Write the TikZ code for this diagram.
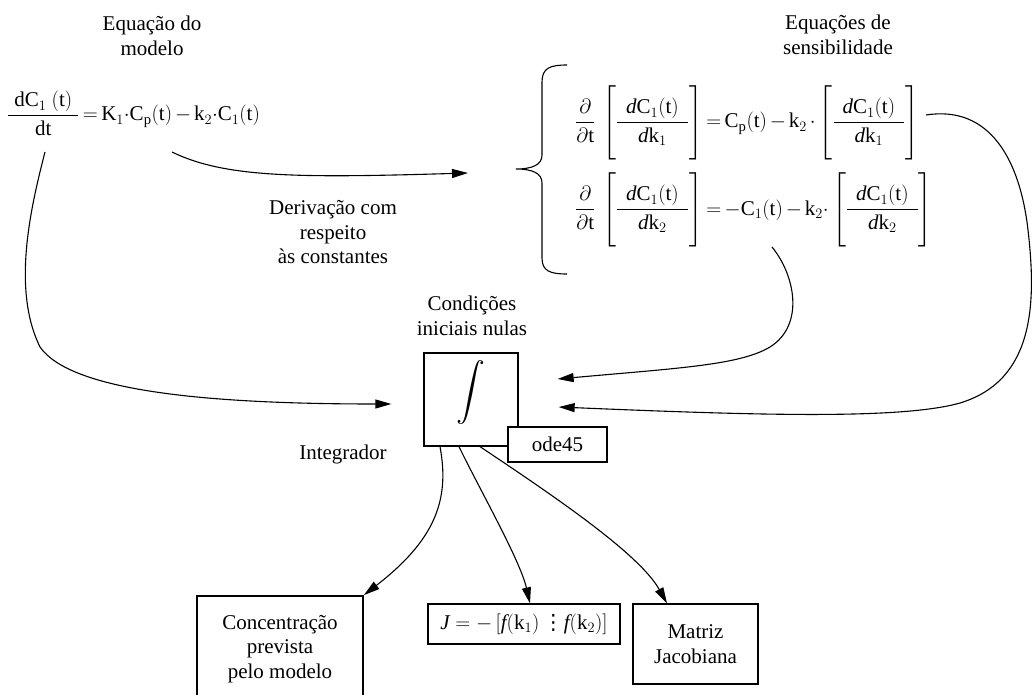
\documentclass[tikz,border=0pt]{standalone}
\usepackage{amsmath}
\usepackage{graphicx}
\usepackage{fontspec}
\setmainfont{Liberation Serif}
\newfontfamily\symfnt{DejaVu Sans}
\usetikzlibrary{arrows.meta}
\delimiterfactor=1000
\delimitershortfall=0pt
\newcommand{\rmq}[1]{\mathrm{#1}}
\newcommand{\bfrac}[1]{\left[\rule[-30pt]{0pt}{70pt}\dfrac{\hspace{9pt}\mathit{d}\rmq{C}_1(\rmq{t})\hspace{9pt}}{\mathit{d}\rmq{k}_{#1}}\right]}
\newcommand{\tightmath}{\thickmuskip=3mu\medmuskip=2.5mu}
\begin{document}
\begin{tikzpicture}[x=1pt,y=-1pt,
  every node/.style={font=\fontsize{21}{24.5}\selectfont},
  lbl/.style={align=center,inner sep=0pt},
  box/.style={draw,line width=1.3pt,align=center,inner sep=0pt},
  conn/.style={line width=1.1pt,-{Triangle[length=16pt,width=9pt]}},
  brace/.style={line width=1.1pt}]
\useasboundingbox (0,0) rectangle (1036,695);

% titles and labels
\node[lbl] (ttlM) at (152,36) {Equação do\\modelo};
\node[lbl] (ttlS) at (838,35) {Equações de\\sensibilidade};
\node[lbl] (deriv) at (333,232.5) {Derivação com\\respeito\\às constantes};
\node[lbl] (cond) at (472,316) {Condições\\iniciais nulas};
\node[lbl] (intg) at (343,454) {Integrador};

% model equation
\node[anchor=base west,inner sep=0pt] (model) at (7,121)
  {\tightmath$\dfrac{\hspace{6pt}\rmq{dC}_1\ (\rmq{t})\hspace{6pt}}{\rmq{dt}} = \rmq{K}_1{\cdot}\rmq{C}_\rmq{p}(\rmq{t}) - \rmq{k}_2{\cdot}\rmq{C}_1(\rmq{t})$};

% sensitivity equations
\node[anchor=base west,inner sep=0pt] (eq1) at (575,128)
  {\tightmath$\dfrac{\partial}{\partial\rmq{t}}\,\bfrac{1} = \rmq{C}_\rmq{p}(\rmq{t}) - \rmq{k}_2\cdot\bfrac{1}$};
\node[anchor=base west,inner sep=0pt] (eq2) at (575,215)
  {\tightmath$\dfrac{\partial}{\partial\rmq{t}}\,\bfrac{2} = -\rmq{C}_1(\rmq{t}) - \rmq{k}_2{\cdot}\bfrac{2}$};

% brace
\draw[brace] (567,65) .. controls (550,65) and (542,68) .. (542,82) -- (542,155)
  .. controls (542,165) and (532,169) .. (516,169)
  .. controls (532,169) and (542,173) .. (542,183) -- (542,258)
  .. controls (542,271) and (550,274) .. (567,274);

% integrator
\node[box,minimum width=94pt,minimum height=93pt] (integ) at (471,399.5) {};
\node[inner sep=0pt] (intsym) at (471,393) {\resizebox*{!}{64pt}{$\displaystyle\int$}};
\node[box,fill=white,minimum width=99pt,minimum height=35pt] (ode) at (557.5,444.5) {ode45};

% outputs
\node[box,line width=1.8pt,minimum width=166pt,minimum height=106pt] (conc) at (280,649) {Concentração\\prevista\\pelo modelo};
\node[box,minimum width=192pt,minimum height=40pt] (jac) at (524,624) {$\mathit{J} = -\,[\mathit{f}(\rmq{k}_1)\,\text{\symfnt ⋮}\mathit{f}(\rmq{k}_2)]$};
\node[box,minimum width=125pt,minimum height=80pt] (mat) at (695.5,644) {Matriz\\Jacobiana};

% connector start points
\coordinate (mA) at (172,152);
\coordinate (mB) at (45,152);
\coordinate (sensIn) at (468,173);
\coordinate (s1) at (926,115);
\coordinate (s2) at (772,247);

% connectors
\draw[conn] (mA) .. controls (225,178) and (300,178) .. (sensIn);
\draw[conn] (mB) .. controls (30,210) and (12,290) .. (40,347)
  .. controls (70,390) and (200,404) .. ([xshift=-32pt,yshift=-4.5pt]integ.west);
\draw[conn] (s2) .. controls (795,275) and (805,325) .. (770,347)
  .. controls (740,365) and (680,368) .. ([xshift=39pt,yshift=20.5pt]integ.east);
\draw[conn] (s1) .. controls (990,105) and (1020,160) .. (1028,230)
  .. controls (1036,300) and (1036,380) .. (960,403)
  .. controls (900,420) and (750,415) .. ([xshift=40pt,yshift=-7.5pt]integ.east);
\draw[conn] ([xshift=-31pt]integ.south) .. controls (450,500) and (435,540) .. (conc.north east);
\draw[conn] ([xshift=-12pt]integ.south) .. controls (480,490) and (520,560) .. ([xshift=6pt]jac.north);
\draw[conn] ([xshift=9pt]integ.south) .. controls (560,500) and (640,555) .. ([xshift=-28.5pt]mat.north);
\end{tikzpicture}
\end{document}
